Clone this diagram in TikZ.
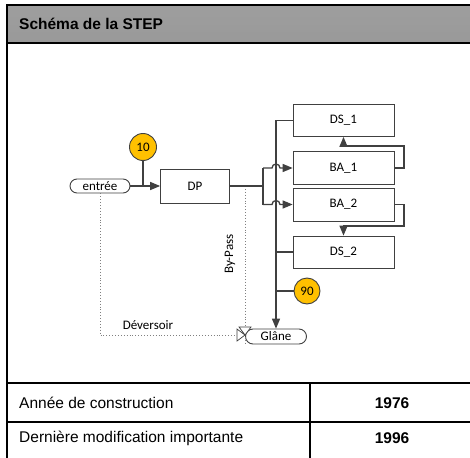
\documentclass[tikz,border=0pt]{standalone}
\usepackage{fontspec}
\setmainfont{Carlito}
\newfontfamily\arialfont{Liberation Sans}
\usetikzlibrary{shapes}
\usetikzlibrary{arrows}
\definecolor{linegray}{HTML}{404040}
\definecolor{taggold}{HTML}{FFC000}
\tikzset{
	flownode/.style = {
		align=center,
		inner sep=0pt,
		text centered,
		font=\fontsize{13}{15}\selectfont,
		draw=linegray,
		line width=0.9pt
	},
	node_box/.style = {
		flownode,
		rectangle,
		fill=white,
		minimum width=101pt,
		minimum height=32pt
	},
	node_pill/.style = {
		flownode,
		rounded rectangle,
		fill=white,
		minimum width=60pt,
		minimum height=14pt
	},
	node_tag/.style = {
		flownode,
		circle,
		fill=taggold,
		minimum size=27pt
	},
	node_label/.style = {
		inner sep=0pt,
		font=\fontsize{13}{15}\selectfont
	},
	line_flow/.style = {
		draw=linegray,
		line width=1.3pt
	},
	line_over/.style = {
		draw=gray,
		dotted,
		line width=0.9pt
	},
	cell_text/.style = {
		inner sep=0pt,
		font=\arialfont\fontsize{15.5}{17}\selectfont
	},
	frame_line/.style = {
		draw=black,
		line width=2pt
	},
}

\begin{document}
\begin{tikzpicture}[x=1pt, y=-1pt, >=triangle 45]
\clip (0,0) rectangle (470,457);
% header band
\shade[top color=black!38, middle color=black!12, bottom color=black!40] (7,5) rectangle (480,43);
\draw[frame_line] (480,5) -- (7,5) -- (7,465);
\draw[frame_line] (7,43) -- (480,43);
\node[cell_text, anchor=west] (title) at (19,24) {\bfseries Schéma de la STEP};
% table
\draw[frame_line] (7,383) -- (480,383);
\draw[frame_line] (7,422) -- (480,422);
\draw[frame_line] (310,383) -- (310,465);
\node[cell_text, anchor=west] (year_lbl) at (19,403) {Année de construction};
\node[cell_text] (year_val) at (392,403) {\bfseries 1976};
\node[cell_text, anchor=west] (mod_lbl) at (19,438) {Dernière modification importante};
\node[cell_text] (mod_val) at (392,438) {\bfseries 1996};

% nodes
\node[node_pill] (entree) at (100,186) {entrée};
\node[node_box, minimum width=69pt, minimum height=34pt] (dp) at (195,186) {DP};
\node[node_tag] (tag10) at (143,147) {10};
\node[node_box] (ds1) at (343.5,120.5) {DS\_1};
\node[node_box, minimum height=33pt] (ba1) at (343.5,168) {BA\_1};
\node[node_box, minimum height=33pt] (ba2) at (343.5,204.5) {BA\_2};
\node[node_box] (ds2) at (343.5,252) {DS\_2};
\node[node_tag, minimum size=26pt] (tag90) at (307,291) {90};
\node[node_pill, minimum width=61pt, minimum height=15pt] (glane) at (276,336.5) {Glâne};
\coordinate (valve) at (245,335);
\coordinate (split) at (263,186);
\coordinate (bypass) at (245,186);
\coordinate (collect) at (276,120.5);

% overflow lines
\draw[line_over] (entree.south) |- ([xshift=-8pt]valve);
\draw[line_over] (bypass) -- ([yshift=-8pt]valve);
\node[node_label] (dev_lbl) at (148,325) {Déversoir};
\node[node_label, rotate=90] (byp_lbl) at (230,254) {By-Pass};
\draw[linegray, line width=0.7pt, fill=white]
	(valve) -- ++(-8,-6) -- ++(0,12) -- cycle
	(valve) -- ++(-6,-8) -- ++(12,0) -- cycle;

% main flow
\draw[line_flow, ->] (entree.east) -- (dp.west);
\draw[line_flow] (tag10.south) -- (tag10.south |- entree.east);
\draw[line_flow] (dp.east) -- (split);
\draw[line_flow] (split |- ba1.west) -- (split |- ba2.west);
\draw[line_flow, ->] (split |- ba1.west) -- (272,168) arc[start angle=180, end angle=0, radius=4pt] -- (ba1.west);
\draw[line_flow, ->] (split |- ba2.west) -- (272,204.5) arc[start angle=180, end angle=0, radius=4pt] -- (ba2.west);
\draw[line_flow, ->] (ba1.east) -- (404,168) -- (404,146) -- (ds1.south |- 0,146) -- (ds1.south);
\draw[line_flow, ->] (ba2.east) -- (404,204.5) -- (404,226) -- (ds2.north |- 0,226) -- (ds2.north);
\draw[line_flow, ->] (ds1.west) -- (collect) -- (glane.north);
\draw[line_flow] (ds2.west) -- (collect |- ds2.west);
\draw[line_flow] (tag90.west) -- (collect |- tag90.west);
\end{tikzpicture}
\end{document}
